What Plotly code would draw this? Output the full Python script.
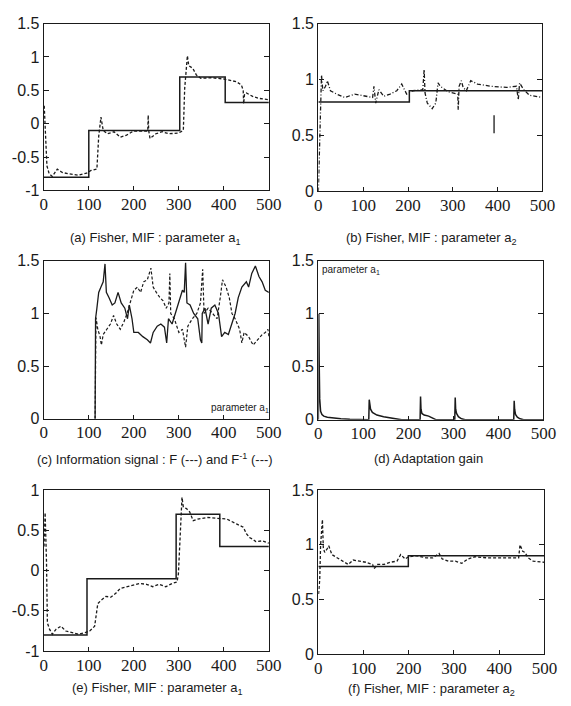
import plotly.graph_objects as go

# ---------------- data ----------------
x_ticks = [0, 100, 200, 300, 400, 500]
x_tick_labels = ["0", "100", "200", "300", "400", "500"]
y_ticks_a = [-1, -0.5, 0, 0.5, 1, 1.5]
y_tick_labels_a = ["-1", "-0.5", "0", "0.5", "1", "1.5"]
y_ticks_pos = [0, 0.5, 1, 1.5]
y_tick_labels_pos = ["0", "0.5", "1", "1.5"]
y_ticks_e = [-1, -0.5, 0, 0.5, 1]
y_tick_labels_e = ["-1", "-0.5", "0", "0.5", "1"]

# (a) parameter a1 : true (solid, step) and estimate (dashed)
a_true_x = [0, 100, 302, 403, 500]
a_true_y = [-0.8, -0.1, 0.7, 0.32, 0.32]
a_est_x = [1, 3.6, 7, 12, 19, 30, 41, 55, 77, 95, 105, 118, 122, 127, 132, 141, 156, 170, 184, 199,
           220, 231, 232, 233, 236, 249, 263, 278, 299, 310, 313, 317, 319, 322, 331, 339, 349, 371, 400, 428,
           439, 443, 444, 446, 450, 464, 478, 500]
a_est_y = [0.27, -0.19, -0.63, -0.75, -0.79, -0.68, -0.73, -0.75, -0.77, -0.74, -0.70, -0.68, -0.19, 0.10, -0.10,
           -0.15, -0.12, -0.20, -0.17, -0.11, -0.11, -0.11, 0.13, -0.10, -0.22, -0.15, -0.12, -0.15, -0.14, -0.10,
           0.53, 0.92, 1.02, 0.87, 0.83, 0.73, 0.68, 0.69, 0.67, 0.63, 0.58, 0.50, 0.30, 0.45, 0.46, 0.41, 0.38, 0.36]

# (b) parameter a2
b_true_x = [0, 203, 500]
b_true_y = [0.8, 0.9, 0.9]
b_est_x = [0, 3, 5, 7, 10, 16, 20, 27, 41, 59, 81, 103, 121, 124, 128, 135, 146, 160, 175, 186,
           197, 211, 233, 236, 238, 243, 254, 262, 267, 272, 290, 311, 312, 314, 319, 323, 330, 340, 355, 384,
           420, 442, 446, 449, 458, 471, 500]
b_est_y = [0, 0.49, 0.79, 1.04, 0.90, 0.94, 0.99, 0.90, 0.87, 0.84, 0.87, 0.85, 0.84, 0.94, 0.79, 0.91, 0.85,
           0.87, 0.90, 0.96, 0.87, 0.90, 0.91, 1.09, 0.88, 0.79, 0.74, 0.79, 0.97, 0.94, 0.89, 0.87, 0.73, 0.94,
           0.99, 0.93, 0.90, 0.99, 0.96, 0.94, 0.93, 0.94, 0.82, 0.97, 0.91, 0.86, 0.84]
b_mark_x = [392, 392]
b_mark_y = [0.52, 0.68]

# (c) information signal F (solid) and F^-1 (dashed)
c_f_x = [114, 115, 118, 122, 127, 132, 136, 139, 145, 152, 158, 165, 172, 180, 186, 190, 196, 200, 210, 220,
         230, 237, 243, 252, 260, 268, 273, 277, 285, 295, 302, 308, 312, 315, 318, 325, 333, 342, 348, 351,
         352, 358, 365, 372, 380, 388, 395, 402, 410, 418, 425, 432, 440, 450, 455, 462, 470, 478, 485, 492, 500]
c_f_y = [0, 0.95, 1.05, 1.2, 1.25, 1.3, 1.47, 1.2, 1.15, 1.08, 1.1, 1.2, 1.1, 1.05, 0.95, 1.08, 0.95, 0.82,
         0.82, 0.78, 0.75, 0.72, 0.82, 0.88, 0.9, 0.87, 0.72, 0.95, 0.9, 1.05, 1.15, 1.22, 1.2, 1.48, 1.1, 1.08,
         1.0, 0.95, 0.75, 0.72, 1.0, 1.05, 0.9, 1.05, 1.08, 1.0, 0.78, 0.82, 0.8, 0.9, 1.0, 1.15, 1.25, 1.3,
         1.25, 1.38, 1.45, 1.35, 1.3, 1.22, 1.2]
c_finv_x = [114, 116, 120, 125, 128, 132, 140, 148, 155, 162, 170, 178, 185, 192, 200, 208, 215, 222, 230, 238,
            243, 250, 258, 265, 272, 278, 280, 282, 290, 300, 308, 315, 320, 330, 340, 348, 353, 356, 365, 375,
            385, 392, 397, 405, 412, 418, 425, 435, 440, 445, 455, 465, 475, 485, 492, 498, 500]
c_finv_y = [0, 0.96, 0.85, 0.78, 0.7, 0.8, 0.85, 0.9, 0.98, 0.9, 0.85, 0.92, 1.0, 1.1, 1.22, 1.25, 1.2, 1.3,
            1.32, 1.43, 1.25, 1.2, 1.15, 1.12, 1.05, 1.1, 1.38, 1.0, 0.95, 0.82, 0.85, 0.68, 0.88, 0.95, 1.0,
            1.1, 1.42, 1.0, 1.05, 1.0, 0.95, 1.15, 1.32, 1.25, 1.15, 1.0, 0.95, 0.85, 0.72, 0.82, 0.78, 0.7,
            0.75, 0.8, 0.82, 0.85, 0.78]

# (d) adaptation gain
d_gain_x = [0, 1, 2, 3, 5, 8, 12, 20, 35, 50, 70, 90, 112, 113, 114, 116, 120, 130, 145, 160,
            175, 185, 226, 227, 228, 230, 235, 245, 255, 262, 303, 304, 305, 307, 311, 318, 326, 434, 435, 436,
            438, 442, 448, 456, 500]
d_gain_y = [0, 1.0, 0.5, 0.2, 0.08, 0.05, 0.035, 0.025, 0.015, 0.01, 0.005, 0.002, 0, 0.19, 0.14, 0.1, 0.07,
            0.045, 0.03, 0.02, 0.008, 0, 0, 0.22, 0.1, 0.06, 0.045, 0.035, 0.015, 0, 0, 0.21, 0.1, 0.06, 0.03,
            0.01, 0, 0, 0.18, 0.1, 0.05, 0.025, 0.01, 0, 0]

# (e) parameter a1
e_true_x = [0, 96, 294, 391, 500]
e_true_y = [-0.8, -0.1, 0.7, 0.3, 0.3]
e_est_x = [0.5, 3, 6, 8, 13, 19, 27, 38, 49, 63, 77, 92, 102, 113, 120, 127, 138, 149, 160, 170,
           185, 199, 213, 228, 242, 256, 271, 285, 296, 299, 303, 307, 310, 317, 324, 332, 342, 364, 385, 407,
           428, 443, 450, 457, 464, 471, 486, 500]
e_est_y = [0.3, 0.72, 0.12, -0.65, -0.73, -0.79, -0.73, -0.69, -0.75, -0.77, -0.79, -0.77, -0.75, -0.69, -0.41,
           -0.37, -0.32, -0.33, -0.28, -0.22, -0.2, -0.18, -0.16, -0.17, -0.2, -0.17, -0.2, -0.16, -0.14, -0.04,
           0.44, 0.91, 0.79, 0.77, 0.73, 0.62, 0.64, 0.66, 0.65, 0.64, 0.58, 0.54, 0.46, 0.41, 0.39, 0.36, 0.37, 0.34]

# (f) parameter a2
f_true_x = [0, 199, 500]
f_true_y = [0.8, 0.9, 0.9]
f_est_x = [0.5, 3, 5, 9, 11, 14, 19, 23, 30, 41, 52, 66, 77, 91, 105, 120, 123, 131, 145, 159,
           174, 182, 192, 199, 217, 238, 253, 267, 274, 288, 303, 317, 331, 346, 374, 418, 443, 446, 452, 457,
           464, 475, 500]
f_est_y = [0.55, 0.68, 1.0, 1.23, 0.97, 0.93, 0.96, 0.99, 0.91, 0.88, 0.85, 0.82, 0.86, 0.85, 0.84, 0.82, 0.78,
           0.82, 0.82, 0.84, 0.85, 0.91, 0.87, 0.89, 0.9, 0.88, 0.88, 0.92, 0.87, 0.85, 0.85, 0.83, 0.87, 0.89,
           0.88, 0.88, 0.88, 1.0, 0.94, 0.93, 0.88, 0.85, 0.84]

captions = [
    "(a) Fisher, MIF : parameter a<sub>1</sub>",
    "(b) Fisher, MIF : parameter a<sub>2</sub>",
    "(c) Information signal : F (---) and F<sup>-1</sup> (---)",
    "(d) Adaptation gain",
    "(e) Fisher, MIF : parameter a<sub>1</sub>",
    "(f) Fisher, MIF : parameter a<sub>2</sub>",
]
inset_label = "parameter a<sub>1</sub>"

# ---------------- layout ----------------
W, H = 571, 706
# panel pixel boxes: (left, right, top, bottom)
boxes = [(41, 273, 16, 187), (324, 555, 16, 188),
         (41, 273, 259, 421), (324, 556, 259, 422),
         (41, 273, 494, 659), (324, 557, 494, 662)]
yranges = [[-1, 1.5], [0, 1.5], [0, 1.5], [0, 1.5], [-1, 1], [0, 1.5]]
yticks = [(y_ticks_a, y_tick_labels_a), (y_ticks_pos, y_tick_labels_pos), (y_ticks_pos, y_tick_labels_pos),
          (y_ticks_pos, y_tick_labels_pos), (y_ticks_e, y_tick_labels_e), (y_ticks_pos, y_tick_labels_pos)]
caption_pos = [(156, 236), (441, 236), (156, 462), (438, 462), (158, 697), (441, 698)]

INK = "#1a1a1a"
fig = go.Figure()
layout = dict(width=W, height=H, autosize=False, margin=dict(l=0, r=0, t=0, b=0),
              paper_bgcolor="white", plot_bgcolor="white", showlegend=False)

for i, (l, r, t, b) in enumerate(boxes):
    n = "" if i == 0 else str(i + 1)
    layout["xaxis" + n] = dict(domain=[l / W, r / W], range=[0, 500], anchor="y" + n,
                               tickvals=x_ticks, ticktext=x_tick_labels,
                               tickfont=dict(family="Liberation Serif", size=17, color=INK),
                               ticks="inside", ticklen=4, tickcolor=INK, tickwidth=1,
                               ticklabelstandoff=-2,
                               showline=True, linecolor=INK, linewidth=1.3, mirror=True,
                               showgrid=False, zeroline=False, fixedrange=True)
    yt, ytl = yticks[i]
    layout["yaxis" + n] = dict(domain=[1 - b / H, 1 - t / H], range=yranges[i], anchor="x" + n,
                               tickvals=yt, ticktext=ytl,
                               tickfont=dict(family="Liberation Sans", size=16, color=INK),
                               ticks="inside", ticklen=5, tickcolor=INK, tickwidth=1,
                               showline=True, linecolor=INK, linewidth=1.3, mirror="ticks",
                               showgrid=False, zeroline=False, fixedrange=True)

def add(x, y, i, dash="solid", width=1.3, shape="linear", color=INK):
    n = "" if i == 0 else str(i + 1)
    fig.add_trace(go.Scatter(x=x, y=y, mode="lines", xaxis="x" + n, yaxis="y" + n,
                             line=dict(color=color, width=width, dash=dash, shape=shape),
                             hoverinfo="skip"))

DASH = "3px,2px"
add(a_true_x, a_true_y, 0, shape="hv", width=1.5)
add(a_est_x, a_est_y, 0, dash=DASH, width=1.3)
add(b_true_x, b_true_y, 1, shape="hv", width=1.5)
add(b_est_x, b_est_y, 1, dash="4px,2px,1px,2px", width=1.3)
add(b_mark_x, b_mark_y, 1, width=1.3)
add(c_f_x, c_f_y, 2, width=1.3)
add(c_finv_x, c_finv_y, 2, dash=DASH, width=1.2)
add(d_gain_x, d_gain_y, 3, width=1.5)
add(e_true_x, e_true_y, 4, shape="hv", width=1.5)
add(e_est_x, e_est_y, 4, dash=DASH, width=1.3)
add(f_true_x, f_true_y, 5, shape="hv", width=1.5)
add(f_est_x, f_est_y, 5, dash=DASH, width=1.3)

ann = []
for (cx, cy), txt in zip(caption_pos, captions):
    ann.append(dict(x=cx / W, y=1 - cy / H, xref="paper", yref="paper", text=txt, showarrow=False,
                    xanchor="center", yanchor="middle",
                    font=dict(family="Liberation Sans", size=13, color=INK)))
ann.append(dict(x=243 / W, y=1 - 410 / H, xref="paper", yref="paper", text=inset_label, showarrow=False,
                xanchor="center", yanchor="middle", font=dict(family="Liberation Sans", size=10, color=INK)))
ann.append(dict(x=358 / W, y=1 - 268 / H, xref="paper", yref="paper", text=inset_label, showarrow=False,
                xanchor="center", yanchor="middle", font=dict(family="Liberation Sans", size=10, color=INK)))
layout["annotations"] = ann

fig.update_layout(**layout)
fig.write_html("out.html")
